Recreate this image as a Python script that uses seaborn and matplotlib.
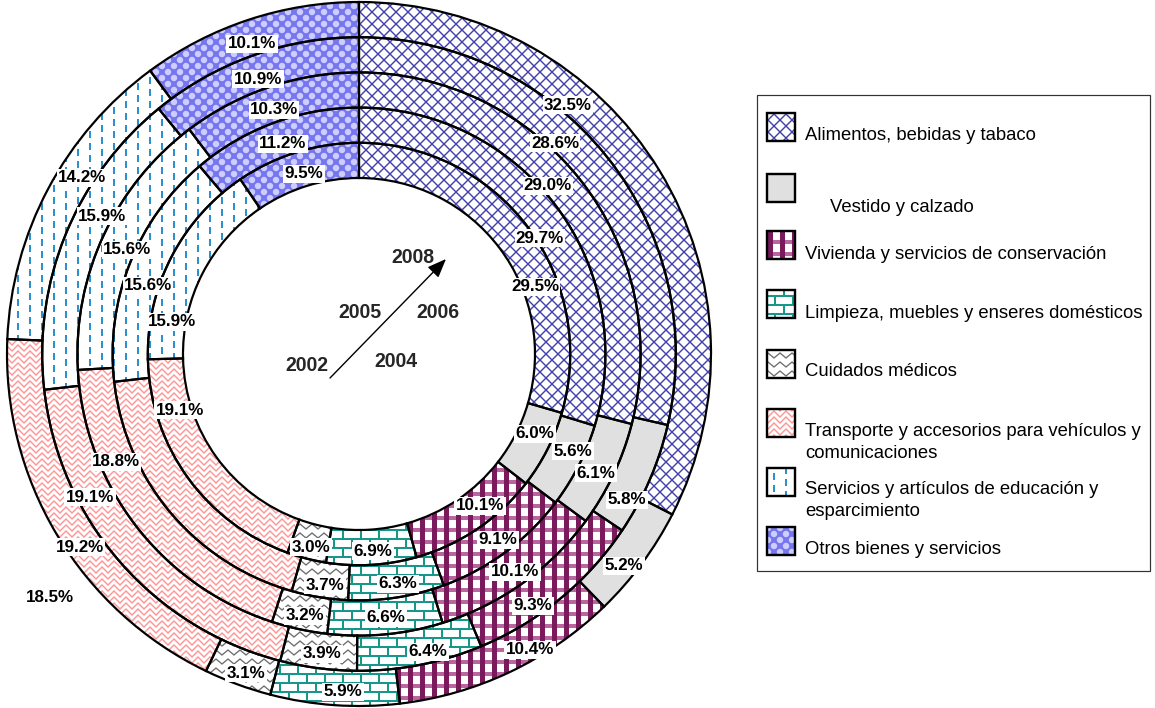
import numpy as np
import pandas as pd
import matplotlib
matplotlib.use("Agg")
import matplotlib.pyplot as plt
import matplotlib.hatch as mhatch
from matplotlib.path import Path
from matplotlib.patches import Wedge, Rectangle
import seaborn as sns

# ---------------- data ----------------
categories = [
    "Alimentos, bebidas y tabaco",
    "Vestido y calzado",
    "Vivienda y servicios de conservación",
    "Limpieza, muebles y enseres domésticos",
    "Cuidados médicos",
    "Transporte y accesorios para vehículos y\ncomunicaciones",
    "Servicios y artículos de educación y\nesparcimiento",
    "Otros bienes y servicios",
]
years = ["2002", "2004", "2005", "2006", "2008"]   # inner -> outer ring
alimentos = [29.5, 29.7, 29.0, 28.6, 32.5]
vestido = [6.0, 5.6, 6.1, 5.8, 5.2]
vivienda = [10.1, 9.1, 10.1, 9.3, 10.4]
limpieza = [6.9, 6.3, 6.6, 6.4, 5.9]
cuidados = [3.0, 3.7, 3.2, 3.9, 3.1]
transporte = [19.1, 18.8, 19.1, 19.2, 18.5]
servicios = [15.9, 15.6, 15.6, 15.9, 14.2]
otros = [9.5, 11.2, 10.3, 10.9, 10.1]

df = pd.DataFrame(
    dict(zip(categories, [alimentos, vestido, vivienda, limpieza,
                          cuidados, transporte, servicios, otros])),
    index=years)

# ---------------- layout (pixel positions of the data labels, as placed in
# the reference; inner ring -> outer ring) ----------------
label_px = [
    [(535, 287), (540, 238), (548, 186), (555, 143), (568, 105)],
    [(535, 434), (573, 451), (596, 473), (627, 500), (624, 566)],
    [(480, 506), (498, 540), (515, 572), (533, 606), (530, 650)],
    [(373, 551), (398, 584), (386, 618), (428, 652), (343, 692)],
    [(311, 547), (325, 585), (305, 616), (322, 654), (246, 673)],
    [(180, 410), (116, 462), (90, 497), (80, 547), (50, 598)],
    [(172, 322), (148, 286), (127, 250), (102, 216), (82, 178)],
    [(304, 174), (283, 144), (274, 110), (258, 79), (252, 44)],
]

# ---------------- theme ----------------
sns.set_theme(style="white")
plt.rcParams["font.family"] = ["Liberation Sans", "DejaVu Sans"]
plt.rcParams["hatch.linewidth"] = 0.01

W, H, DPI = 1155, 708, 72

# ---------------- custom hatch patterns (filled shapes, 72 px cell) -------
CELL = 72.0


def _orient(poly):
    p = np.asarray(poly, float)
    x, y = p[:, 0], p[:, 1]
    area = 0.5 * np.sum(x * np.roll(y, -1) - np.roll(x, -1) * y)
    return p if area >= 0 else p[::-1]


def rect(x0, y0, x1, y1):
    return [(x0, y0), (x1, y0), (x1, y1), (x0, y1)]


def thick_polyline(pts, w):
    up = [(x, y + w / 2) for x, y in pts]
    dn = [(x, y - w / 2) for x, y in reversed(pts)]
    return up + dn


def strip(p, d, L, w):
    d = np.asarray(d, float) / np.hypot(*d)
    n = np.array([-d[1], d[0]])
    p = np.asarray(p, float)
    return [tuple(p - d * L + n * w / 2), tuple(p + d * L + n * w / 2),
            tuple(p + d * L - n * w / 2), tuple(p - d * L - n * w / 2)]


class _CustomHatch(mhatch.HatchPatternBase):
    key = ""
    polys = ()

    def __init__(self, hatch, density):
        self.active = (hatch is not None) and (self.key in hatch)
        self.num_vertices = (sum(len(p) + 1 for p in self.polys)
                             if self.active else 0)

    def set_vertices_and_codes(self, vertices, codes):
        i = 0
        for p in self.polys:
            k = len(p)
            vertices[i:i + k] = p
            vertices[i + k] = p[0]
            codes[i] = Path.MOVETO
            codes[i + 1:i + k] = Path.LINETO
            codes[i + k] = Path.CLOSEPOLY
            i += k + 1


def register(key, polys_px):
    polys = [_orient(p) / CELL for p in polys_px]
    cls = type("Hatch_" + key, (_CustomHatch,), {"key": key, "polys": polys})
    mhatch._hatch_types.append(cls)


mhatch._validate_hatch_pattern = lambda hatch: None

# diamond lattice (Alimentos)
pa = []
for c in range(-96, 180, 12):
    pa.append(strip((c / 2, c / 2), (1, -1), 130, 1.4))
for c in range(-96, 96, 12):
    pa.append(strip((36 + c / 2, 36 - c / 2), (1, 1), 130, 1.4))
register("a", pa)

# vivienda: horizontal bands + vertical bars
register("v", [rect(-2, 12 * n + 8, 74, 12 * n + 12) for n in range(-1, 7)])
register("w", [rect(12 * m, -2, 12 * m + 5, 74) for m in range(-1, 7)])

# bricks (Limpieza)
pb = [rect(-2, 9 * k, 74, 9 * k + 2) for k in range(-1, 9)]
for k in range(-1, 9):
    off = 9 if k % 2 else 0
    for m in range(-1, 5):
        x0 = 18 * m + off
        pb.append(rect(x0, 9 * k + 2, x0 + 2, 9 * k + 9))
register("b", pb)

# zigzag (Cuidados médicos)
pz = []
for k in range(-1, 9):
    y0 = 9 * k + 4.5
    pts = [(6 * i, y0 + (2.5 if i % 2 == 0 else -2.5)) for i in range(-2, 15)]
    pz.append(thick_polyline(pts, 1.7))
register("z", pz)

# chevron weave (Transporte)
ph = []
for k in range(-2, 14):
    y0 = 6 * k
    pts = [(6 * i, y0 + (3 if i % 2 else -3)) for i in range(-2, 15)]
    ph.append(thick_polyline(pts, 2.0))
register("h", ph)

# dashes (Servicios)
pd_ = []
for m in range(0, 6):
    x0 = 12 * m + 5
    off = 0 if m % 2 == 0 else 6
    for n in range(-1, 7):
        pd_.append(rect(x0, 12 * n + off, x0 + 2, 12 * n + off + 7))
register("d", pd_)

# bubbles (Otros)
pc = []
tt = np.linspace(0, 2 * np.pi, 18, endpoint=False)
for i in range(-1, 8):
    for j in range(-1, 8):
        for cx, cy in ((12 * i, 12 * j), (12 * i + 6, 12 * j + 6)):
            pc.append(list(zip(cx + 3.2 * np.cos(tt), cy + 3.2 * np.sin(tt))))
register("c", pc)

styles = {
    categories[0]: dict(face="white", layers=[("a", "#4040aa")]),
    categories[1]: dict(face="#e0e0e0", layers=[]),
    categories[2]: dict(face="white", layers=[("v", "#b866a0"), ("w", "#7a1a5c")]),
    categories[3]: dict(face="white", layers=[("b", "#17978a")]),
    categories[4]: dict(face="white", layers=[("z", "#6c6c6c")]),
    categories[5]: dict(face="white", layers=[("h", "#ff9696")]),
    categories[6]: dict(face="white", layers=[("d", "#2a90d0")]),
    categories[7]: dict(face="#7676ee", layers=[("c", "#cdcdff")]),
}

# ---------------- figure ----------------
fig = plt.figure(figsize=(W / DPI, H / DPI), dpi=DPI)
fig.patch.set_facecolor("white")


def fxy(px, py):
    return px / W, 1 - py / H


CX, CY, R = 359, 354, 352          # pixel centre / outer radius
ax = fig.add_axes([(CX - R) / W, (H - CY - R) / H, 2 * R / W, 2 * R / H])

R_IN = 0.5
RING_W = (1.0 - R_IN) / len(years)
LW = 2.2

for i, yr in enumerate(years):
    vals = df.loc[yr].values
    r = R_IN + (i + 1) * RING_W
    wedges, _ = ax.pie(vals, radius=r, startangle=90, counterclock=False,
                       colors=[styles[c]["face"] for c in categories],
                       wedgeprops=dict(width=RING_W, linewidth=0,
                                       edgecolor="none", zorder=1))
    for j, (w, cat, v) in enumerate(zip(wedges, categories, vals)):
        w.set_clip_on(False)
        for hk, hc in styles[cat]["layers"]:
            hw = Wedge(w.center, w.r, w.theta1, w.theta2, width=w.width,
                       facecolor="none", edgecolor=hc, linewidth=0,
                       hatch=hk, zorder=2, clip_on=False)
            ax.add_patch(hw)
        ow = Wedge(w.center, w.r, w.theta1, w.theta2, width=w.width,
                   facecolor="none", edgecolor="black", linewidth=LW,
                   zorder=3, clip_on=False)
        ax.add_patch(ow)
        fig.text(*fxy(*label_px[j][i]), f"{v:.1f}%",
                 ha="center", va="center", fontsize=17, fontweight="bold",
                 color="black", zorder=5,
                 bbox=dict(boxstyle="square,pad=0.08", fc="white", ec="none"))

ax.set_xlim(-1, 1)
ax.set_ylim(-1, 1)
ax.set_aspect("auto")
ax.axis("off")

# ---------------- year labels and arrow ----------------
ax.annotate("", xy=(446, H - 259), xytext=(330, H - 378),
            xycoords="figure pixels", textcoords="figure pixels",
            arrowprops=dict(arrowstyle="-|>,head_length=0.8,head_width=0.32",
                            color="black", lw=1.4, mutation_scale=20,
                            shrinkA=0, shrinkB=0))
for txt, (px, py) in zip(years, [(307, 366), (396, 361), (360, 313),
                                 (438, 313), (413, 257)]):
    fig.text(*fxy(px, py), txt, ha="center", va="center", fontsize=19.5,
             fontweight="bold")

# ---------------- legend ----------------
LX0, LY0, LX1, LY1 = 757, 95, 1150, 571
fig.add_artist(Rectangle(fxy(LX0, LY1), (LX1 - LX0) / W, (LY1 - LY0) / H,
                         transform=fig.transFigure, facecolor="white",
                         edgecolor="#333333", linewidth=1.2, zorder=1))

patch_tops = [113, 174, 231, 290, 350, 409, 468, 527]
text_pos = [(805, [135]), (830, [207]), (805, [254]), (805, [313]),
            (805, [371]), (805, [431, 454]), (805, [490, 512]), (805, [550])]
SW = 28
for cat, top, (tx, tys) in zip(categories, patch_tops, text_pos):
    st = styles[cat]
    xy = fxy(767, top + SW)
    wh = (SW / W, SW / H)
    fig.add_artist(Rectangle(xy, *wh, transform=fig.transFigure,
                             facecolor=st["face"], edgecolor="none", lw=0,
                             zorder=2))
    for hk, hc in st["layers"]:
        fig.add_artist(Rectangle(xy, *wh, transform=fig.transFigure,
                                 facecolor="none", edgecolor=hc, lw=0,
                                 hatch=hk, zorder=3))
    fig.add_artist(Rectangle(xy, *wh, transform=fig.transFigure,
                             facecolor="none", edgecolor="black", lw=2.4,
                             zorder=4))
    for line, ty in zip(cat.split("\n"), tys):
        fig.text(*fxy(tx, ty), line, ha="left", va="center", fontsize=18.5,
                 color="black", zorder=5)

fig.savefig("out.png", dpi=DPI, facecolor="white")
